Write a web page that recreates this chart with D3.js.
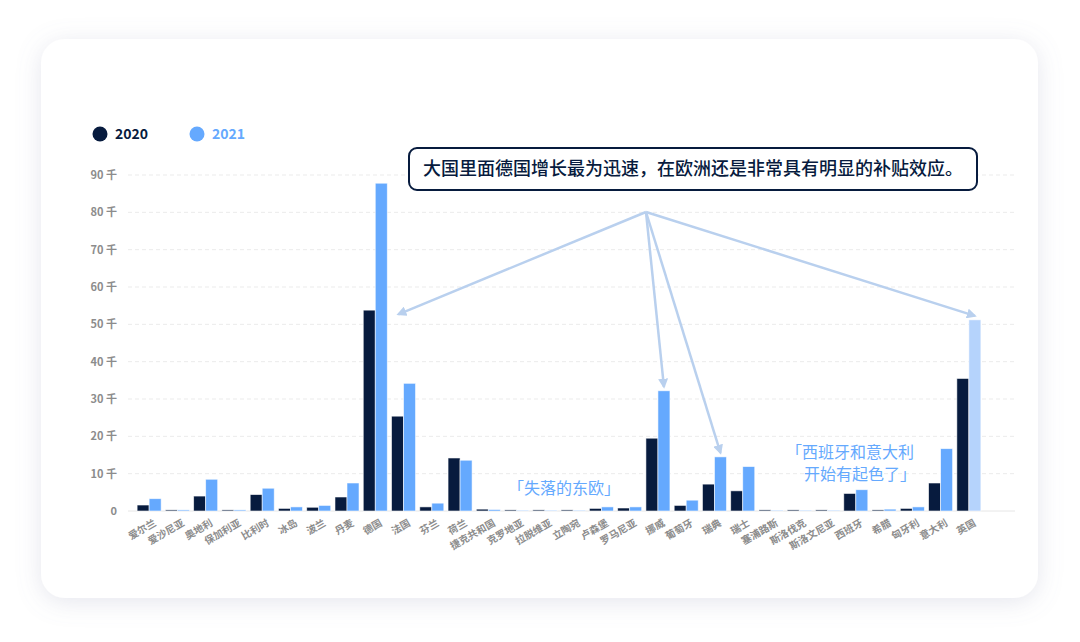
<!DOCTYPE html>
<html>
<head>
<meta charset="UTF-8">
<script src="https://cdn.jsdelivr.net/npm/d3@7"></script>
<style>
body{
    margin:0;
    background:#fff;
    font-family: "Noto Sans CJK SC", "Noto Sans", sans-serif;
}
</style>
</head>
<body>
<script>
var width = 1080;
var height = 642;

// data (thousands)
var countries = ["爱尔兰","爱沙尼亚","奥地利","保加利亚","比利时","冰岛","波兰","丹麦","德国","法国",
    "芬兰","荷兰","捷克共和国","克罗地亚","拉脱维亚","立陶宛","卢森堡","罗马尼亚","挪威","葡萄牙",
    "瑞典","瑞士","塞浦路斯","斯洛伐克","斯洛文尼亚","西班牙","希腊","匈牙利","意大利","英国"]
var v2020 = [1.6,0.3,4.0,0.3,4.4,0.7,1.0,3.75,53.8,25.4,
    1.1,14.2,0.5,0.3,0.3,0.3,0.7,0.8,19.5,1.5,
    7.2,5.4,0.3,0.3,0.3,4.7,0.3,0.7,7.5,35.5]
var v2021 = [3.3,0.3,8.5,0.3,6.1,1.1,1.5,7.5,87.8,34.2,
    2.1,13.6,0.4,0.2,0.2,0.2,1.1,1.1,32.2,2.9,
    14.5,11.9,0.2,0.2,0.2,5.7,0.5,1.1,16.7,51.2]
var yTicks = [0,10,20,30,40,50,60,70,80,90]
var seriesNames = ["2020","2021"]
var seriesColors = ["#071b3e","#65a9fe"]
var highlightColor = "#b5d3fc"

var svg = d3.select('body')
    .append('svg')
    .attr('width', width)
    .attr('height', height)

var defs = svg.append("defs")
var shadow = defs.append("filter").attr("id","shadow")
    .attr("x","-10%").attr("y","-10%").attr("width","120%").attr("height","125%")
shadow.append("feDropShadow")
    .attr("dx",0).attr("dy",4).attr("stdDeviation",12)
    .attr("flood-color","#8a8fb0").attr("flood-opacity",0.22)

defs.append("marker")
    .attr("id","arrow")
    .attr("viewBox","0 0 10 10")
    .attr("refX",8).attr("refY",5)
    .attr("markerWidth",4).attr("markerHeight",4)
    .attr("orient","auto")
    .append("path")
    .attr("d","M0,0 L10,5 L0,10 z")
    .attr("fill","#b9d0ee")

// card
svg.append("rect")
    .attr("x",41).attr("y",39)
    .attr("width",997).attr("height",559)
    .attr("rx",24).attr("ry",24)
    .attr("fill","#fff")
    .attr("filter","url(#shadow)")

var x = d3.scaleBand()
    .domain(countries)
    .range([135, 983])
    .paddingInner(0.15)
    .paddingOuter(0.075)

var xs = d3.scaleBand()
    .domain(seriesNames)
    .range([0, x.bandwidth()])

var y = d3.scaleLinear()
    .domain([0, 90])
    .range([511, 175])

// grid
svg.append("g").selectAll("line")
    .data(yTicks)
    .join("line")
    .attr("x1",128).attr("x2",1015)
    .attr("y1",d => y(d)).attr("y2",d => y(d))
    .attr("stroke", d => d == 0 ? "#e6e6e6" : "#ebebeb")
    .attr("stroke-dasharray", d => d == 0 ? null : "4,3")

svg.append("g").selectAll("text")
    .data(yTicks)
    .join("text")
    .attr("x",117)
    .attr("y",d => y(d))
    .attr("dy","0.35em")
    .attr("text-anchor","end")
    .attr("font-size",11)
    .attr("font-weight","bold")
    .attr("fill","#8c8c8c")
    .text(d => d == 0 ? "0" : d + " 千")

// bars
var groups = svg.append("g").selectAll("g")
    .data(countries)
    .join("g")
    .attr("transform", d => "translate(" + x(d) + ",0)")

groups.selectAll("rect")
    .data((d,i) => [{s:"2020", v:v2020[i], c:d}, {s:"2021", v:v2021[i], c:d}])
    .join("rect")
    .attr("x", d => xs(d.s))
    .attr("y", d => y(d.v))
    .attr("width", xs.bandwidth())
    .attr("height", d => y(0) - y(d.v))
    .attr("fill", d => (d.c == "英国" && d.s == "2021") ? highlightColor : seriesColors[seriesNames.indexOf(d.s)])
    .attr("stroke","rgba(255,255,255,0.7)")
    .attr("stroke-width",0.8)

// x labels
svg.append("g").selectAll("text")
    .data(countries)
    .join("text")
    .attr("transform", d => "translate(" + (x(d) + x.bandwidth()/2 + 6) + ",522) rotate(-30)")
    .attr("text-anchor","end")
    .attr("dy","0.35em")
    .attr("font-size",10)
    .attr("font-weight","bold")
    .attr("fill","#8c8c8c")
    .text(d => d)

// legend
var legend = svg.append("g")
seriesNames.forEach(function(s, i){
    let lx = 100 + i*97
    legend.append("circle").attr("cx",lx).attr("cy",134).attr("r",7.5).attr("fill",seriesColors[i])
    legend.append("text").attr("x",lx+15).attr("y",134).attr("dy","0.36em")
        .attr("font-size",14).attr("font-weight","bold")
        .attr("fill", i == 0 ? "#071b3e" : "#65a9fe")
        .text(s)
})

// arrows
var origin = [646, 212]
var targets = [
    [x("德国") + x.bandwidth() + 11, y(v2021[8]*0.6)],
    [x("挪威") + xs("2021") + xs.bandwidth()/2, y(v2021[18]) - 4],
    [x("瑞典") + xs("2021") + xs.bandwidth()/2, y(v2021[20]) - 4],
    [x("英国") + xs("2021") + xs.bandwidth()/2, y(v2021[29]) - 4]
]
svg.append("g").selectAll("line")
    .data(targets)
    .join("line")
    .attr("x1",origin[0]).attr("y1",origin[1])
    .attr("x2",d => d[0]).attr("y2",d => d[1])
    .attr("stroke","#b9d0ee")
    .attr("stroke-width",2.5)
    .attr("marker-end","url(#arrow)")

// callout
svg.append("rect")
    .attr("x",409).attr("y",148)
    .attr("width",568).attr("height",42)
    .attr("rx",8).attr("ry",8)
    .attr("fill","#fff")
    .attr("stroke","#071b3e")
    .attr("stroke-width",2)
svg.append("text")
    .attr("x",693).attr("y",169)
    .attr("dy","0.36em")
    .attr("text-anchor","middle")
    .attr("font-size",18)
    .attr("font-weight",500)
    .attr("fill","#071b3e")
    .text("大国里面德国增长最为迅速，在欧洲还是非常具有明显的补贴效应。")

// notes
var noteLines = [
    {t:"「失落的东欧」", x:564, y:488},
    {t:"「西班牙和意大利", x:850, y:452},
    {t:"开始有起色了」", x:860, y:474}
]
svg.append("g").selectAll("text")
    .data(noteLines)
    .join("text")
    .attr("x",d => d.x).attr("y",d => d.y)
    .attr("dy","0.36em")
    .attr("text-anchor","middle")
    .attr("font-size",16)
    .attr("fill","#65a9fe")
    .text(d => d.t)
</script>
</body>
</html>
